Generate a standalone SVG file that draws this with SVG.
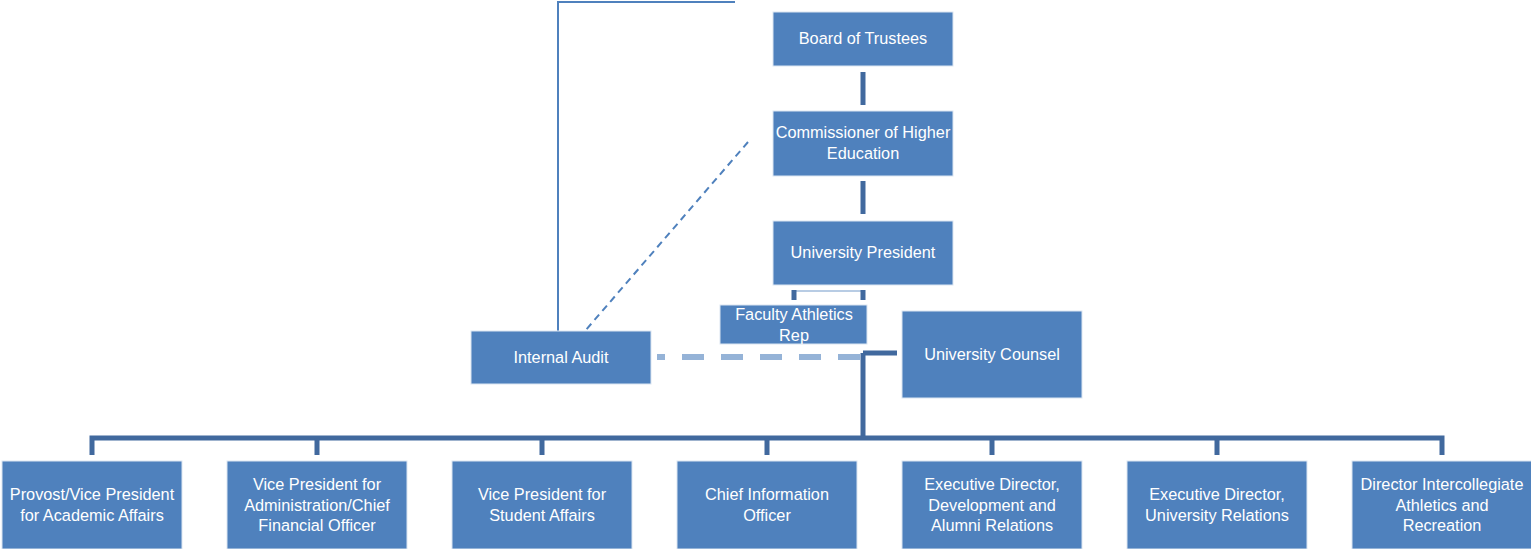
<svg xmlns="http://www.w3.org/2000/svg" width="1531" height="549" viewBox="0 0 1531 549">
<style>
.box{fill:#4F81BD;stroke:#DCE6F2;stroke-width:1}
.t{font-family:"Liberation Sans",Arial,sans-serif;font-size:16.3px;fill:#FFFFFF;text-anchor:middle}
.c{stroke:#41699E;stroke-width:5;fill:none}
</style>
<rect width="1531" height="549" fill="#FFFFFF"/>
<g id="connectors">
<path d="M735,2 H558 V331" stroke="#4F81BD" stroke-width="2" fill="none"/>
<path d="M748,142 L585,331" stroke="#4F81BD" stroke-width="2" stroke-dasharray="7,5" fill="none"/>
<path class="c" d="M863,72 V105"/>
<path class="c" d="M863,181 V214"/>
<path d="M794,291 H863" stroke="#B8CCE4" stroke-width="2" fill="none"/>
<path class="c" d="M794,290 V300"/>
<path class="c" d="M863,290 V300"/>
<path d="M657,357 H860" stroke="#95B3D7" stroke-width="6" stroke-dasharray="22,17" stroke-dashoffset="14" fill="none"/>
<path class="c" d="M863,353 V437"/>
<path class="c" d="M863,353 H897"/>
<path class="c" d="M92,455 V438 H1442 V455"/>
<path class="c" d="M317,438 V455 M542,438 V455 M767,438 V455 M992,438 V455 M1217,438 V455"/>
</g>
<g id="board"><rect class="box" x="773" y="12" width="180" height="54"/><text class="t" x="863" y="44">Board of Trustees</text></g>
<g id="commissioner"><rect class="box" x="773" y="111" width="180" height="65"/><text class="t" x="863" y="138">Commissioner of Higher</text><text class="t" x="863" y="159">Education</text></g>
<g id="president"><rect class="box" x="773" y="221" width="180" height="64"/><text class="t" x="863" y="258">University President</text></g>
<g id="far"><rect class="box" x="720" y="305" width="147" height="39"/><text class="t" x="794" y="320">Faculty Athletics</text><text class="t" x="794" y="341">Rep</text></g>
<g id="audit"><rect class="box" x="471" y="331" width="180" height="53"/><text class="t" x="561" y="363">Internal Audit</text></g>
<g id="counsel"><rect class="box" x="902" y="311" width="180" height="87"/><text class="t" x="992" y="360">University Counsel</text></g>
<g id="provost"><rect class="box" x="2" y="461" width="180" height="88"/><text class="t" x="92" y="500">Provost/Vice President</text><text class="t" x="92" y="521">for Academic Affairs</text></g>
<g id="vpadmin"><rect class="box" x="227" y="461" width="180" height="88"/><text class="t" x="317" y="490">Vice President for</text><text class="t" x="317" y="511">Administration/Chief</text><text class="t" x="317" y="531">Financial Officer</text></g>
<g id="vpstudent"><rect class="box" x="452" y="461" width="180" height="88"/><text class="t" x="542" y="500">Vice President for</text><text class="t" x="542" y="521">Student Affairs</text></g>
<g id="cio"><rect class="box" x="677" y="461" width="180" height="88"/><text class="t" x="767" y="500">Chief Information</text><text class="t" x="767" y="521">Officer</text></g>
<g id="devalumni"><rect class="box" x="902" y="461" width="180" height="88"/><text class="t" x="992" y="490">Executive Director,</text><text class="t" x="992" y="511">Development and</text><text class="t" x="992" y="531">Alumni Relations</text></g>
<g id="univrel"><rect class="box" x="1127" y="461" width="180" height="88"/><text class="t" x="1217" y="500">Executive Director,</text><text class="t" x="1217" y="521">University Relations</text></g>
<g id="athletics"><rect class="box" x="1352" y="461" width="180" height="88"/><text class="t" x="1442" y="490">Director Intercollegiate</text><text class="t" x="1442" y="511">Athletics and</text><text class="t" x="1442" y="531">Recreation</text></g>
</svg>
